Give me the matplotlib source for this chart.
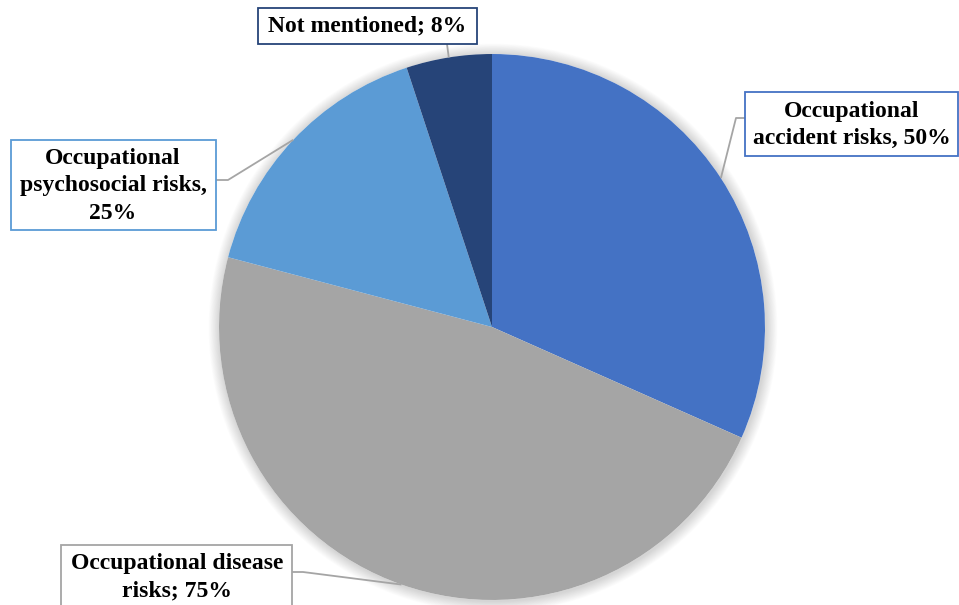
import numpy as np
import matplotlib.pyplot as plt
from matplotlib.patches import Rectangle, Circle

plt.rcParams['font.family'] = ['Liberation Serif', 'DejaVu Serif']

labels = ['Occupational\naccident risks, 50%',
          'Occupational disease\nrisks; 75%',
          'Occupational\npsychosocial risks,\n25%',
          'Not mentioned; 8%']
values = [50, 75, 25, 8]
colors = ['#4472C4', '#A5A5A5', '#5B9BD5', '#264478']

W, H = 959, 605
cx, cy, R = 492, 327, 273

# label boxes in pixel coords: (left, top, right, bottom), text centre,
# and the leader points from the box towards the pie
boxes = [
    ((745, 92, 958, 156), (852, 125), [(745, 118), (736, 118)]),
    ((61, 545, 292, 612), (177, 577), [(292, 572), (303, 572)]),
    ((11, 140, 216, 230), (113, 186), [(216, 180), (228, 180)]),
    ((258, 8, 477, 44), (367, 26), [(447, 44)]),
]


def yy(y):
    return H - y


fig = plt.figure(figsize=(9.59, 6.05), dpi=100)
ax = fig.add_axes([0, 0, 1, 1])

# soft shadow around the pie
for k in range(14):
    ax.add_patch(Circle((cx + 1, yy(cy) - 1), R + 1 + k * 0.8, color='black',
                        alpha=0.012, lw=0, zorder=0))
ax.add_patch(Circle((cx, yy(cy)), R, color='white', lw=0, zorder=0.5))

wedges, _ = ax.pie(values, colors=colors, startangle=90, counterclock=False,
                   radius=R, center=(cx, yy(cy)),
                   wedgeprops=dict(linewidth=0))
for w in wedges:
    w.set_zorder(1)

for w, lab, col, (box, tc, pts) in zip(wedges, labels, colors, boxes):
    ang = np.deg2rad((w.theta1 + w.theta2) / 2)
    px = cx + R * np.cos(ang)
    py = yy(cy) + R * np.sin(ang)
    xs = [p[0] for p in pts] + [px]
    ys = [yy(p[1]) for p in pts] + [py]
    ax.plot(xs, ys, color='#A5A5A5', lw=1.3, zorder=2, solid_capstyle='butt')
    l, t, r, b = box
    ax.add_patch(Rectangle((l, yy(b)), r - l, b - t, facecolor='white',
                           edgecolor=col, lw=1.3, zorder=3))
    ax.text(tc[0], yy(tc[1]), lab, ha='center', va='center', fontsize=17,
            fontweight='bold', linespacing=1.4, zorder=4)

ax.set_xlim(0, W)
ax.set_ylim(0, H)
ax.set_aspect('equal')
ax.axis('off')

fig.savefig('out.png', dpi=100)
